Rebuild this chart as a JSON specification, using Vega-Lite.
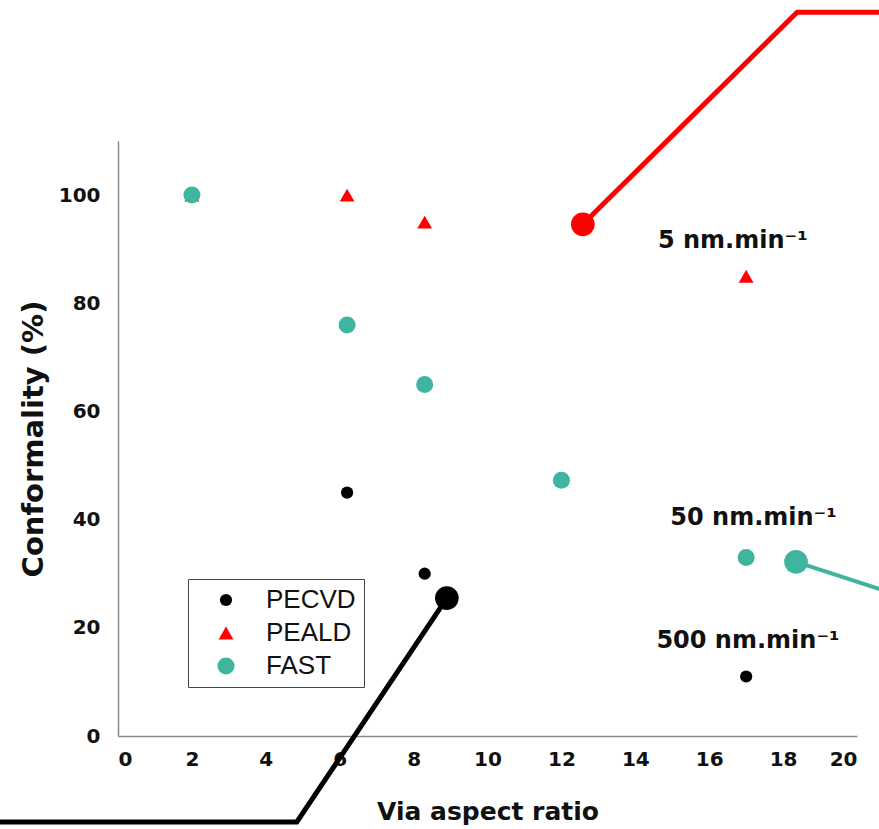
{
  "$schema": "https://vega.github.io/schema/vega-lite/v6.json",
  "width": 739,
  "height": 595,
  "autosize": {"type": "none"},
  "padding": {"left": 118, "top": 141, "right": 22, "bottom": 93},
  "background": "white",
  "config": {
    "view": {"stroke": null},
    "font": "DejaVu Sans",
    "axis": {"grid": false, "ticks": false, "domainColor": "#8a8a8a", "domainWidth": 1.5, "labelFont": "DejaVu Sans", "labelFontWeight": "bold", "labelFontSize": 20, "labelColor": "#111", "titleFont": "DejaVu Sans", "titleFontWeight": "bold", "titleColor": "#111"}
  },
  "datasets": {
    "points": [
      {"x": 2, "y": 100, "series": "PEALD"},
      {"x": 6.2, "y": 100, "series": "PEALD"},
      {"x": 8.3, "y": 95, "series": "PEALD"},
      {"x": 17, "y": 85, "series": "PEALD"},
      {"x": 2, "y": 100, "series": "FAST"},
      {"x": 6.2, "y": 76, "series": "FAST"},
      {"x": 8.3, "y": 65, "series": "FAST"},
      {"x": 12, "y": 47.3, "series": "FAST"},
      {"x": 17, "y": 33, "series": "FAST"},
      {"x": 6.2, "y": 45, "series": "PECVD"},
      {"x": 8.3, "y": 30, "series": "PECVD"},
      {"x": 17, "y": 11, "series": "PECVD"}
    ],
    "callouts": [
      {"x": 12.58, "y": 94.6, "group": "red", "end": true},
      {"x": 18.38, "y": 133.8, "group": "red", "end": false},
      {"x": 20.9, "y": 133.8, "group": "red", "end": false},
      {"x": 8.9, "y": 25.5, "group": "black", "end": true},
      {"x": 4.84, "y": -15.9, "group": "black", "end": false},
      {"x": -3.4, "y": -15.9, "group": "black", "end": false},
      {"x": 18.35, "y": 32.2, "group": "teal", "end": true},
      {"x": 20.9, "y": 26.5, "group": "teal", "end": false}
    ],
    "labels": [
      {"x": 16.64, "y": 91.5, "text": "5 nm.min⁻¹"},
      {"x": 17.2, "y": 40.3, "text": "50 nm.min⁻¹"},
      {"x": 17.05, "y": 17.6, "text": "500 nm.min⁻¹"}
    ]
  },
  "layer": [
    {
      "data": {"name": "points"},
      "mark": {"type": "point", "filled": true, "opacity": 1},
      "encoding": {
        "x": {"field": "x", "type": "quantitative", "scale": {"domain": [0, 20], "nice": false, "zero": false}, "axis": {"values": [0, 2, 4, 6, 8, 10, 12, 14, 16, 18, 20], "title": "Via aspect ratio", "titleFontSize": 25, "labelPadding": 13, "titlePadding": 30}},
        "y": {"field": "y", "type": "quantitative", "scale": {"domain": [0, 110], "nice": false}, "axis": {"values": [0, 20, 40, 60, 80, 100], "title": "Conformality (%)", "titleFontSize": 29, "labelPadding": 18, "titlePadding": 10}},
        "color": {"field": "series", "type": "nominal", "scale": {"domain": ["PECVD", "PEALD", "FAST"], "range": ["#000000", "#ff0000", "#3fb5a0"]}, "legend": {"title": null, "orient": "none", "legendX": 70, "legendY": 438, "strokeColor": "#444", "fillColor": "white", "padding": 8, "labelFont": "Liberation Sans", "labelFontSize": 26, "labelColor": "#111", "symbolSize": 240, "symbolOffset": 17, "labelOffset": 27, "rowPadding": 7, "symbolStrokeWidth": 0}},
        "shape": {"field": "series", "type": "nominal", "scale": {"domain": ["PECVD", "PEALD", "FAST"], "range": ["circle", "triangle-up", "circle"]}},
        "size": {"field": "series", "type": "nominal", "scale": {"domain": ["PECVD", "PEALD", "FAST"], "range": [150, 290, 160]}, "legend": null}
      }
    },
    {
      "data": {"name": "callouts"},
      "transform": [{"filter": "datum.group === 'red'"}],
      "mark": {"type": "line", "color": "#ff0000", "strokeWidth": 5, "clip": false},
      "encoding": {"x": {"field": "x", "type": "quantitative"}, "y": {"field": "y", "type": "quantitative"}}
    },
    {
      "data": {"name": "callouts"},
      "transform": [{"filter": "datum.group === 'black'"}],
      "mark": {"type": "line", "color": "#000000", "strokeWidth": 5, "clip": false},
      "encoding": {"x": {"field": "x", "type": "quantitative"}, "y": {"field": "y", "type": "quantitative"}}
    },
    {
      "data": {"name": "callouts"},
      "transform": [{"filter": "datum.group === 'teal'"}],
      "mark": {"type": "line", "color": "#3fb5a0", "strokeWidth": 4, "clip": false},
      "encoding": {"x": {"field": "x", "type": "quantitative"}, "y": {"field": "y", "type": "quantitative"}}
    },
    {
      "data": {"name": "callouts"},
      "transform": [{"filter": "datum.end"}],
      "mark": {"type": "circle", "opacity": 1, "size": 560},
      "encoding": {
        "x": {"field": "x", "type": "quantitative"},
        "y": {"field": "y", "type": "quantitative"},
        "fill": {"field": "group", "type": "nominal", "scale": {"domain": ["red", "black", "teal"], "range": ["#ff0000", "#000000", "#3fb5a0"]}, "legend": null}
      }
    },
    {
      "data": {"name": "labels"},
      "mark": {"type": "text", "font": "DejaVu Sans", "fontWeight": "bold", "fontSize": 24, "color": "#111", "align": "center", "baseline": "middle"},
      "encoding": {"x": {"field": "x", "type": "quantitative"}, "y": {"field": "y", "type": "quantitative"}, "text": {"field": "text"}}
    }
  ]
}
